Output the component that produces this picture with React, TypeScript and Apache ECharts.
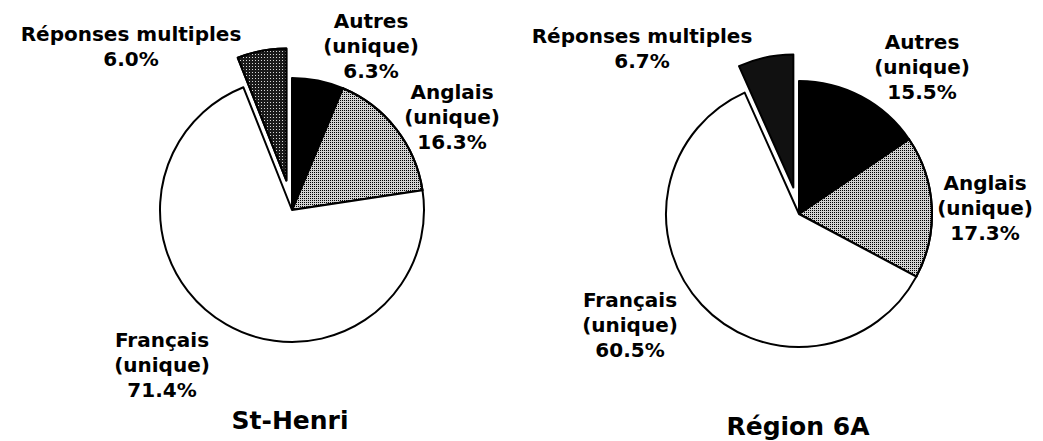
import React, { useEffect, useRef } from "react";
import * as echarts from "echarts";

// ---- data ----
const categories = ["Autres (unique)", "Anglais (unique)", "Français (unique)", "Réponses multiples"];
const stHenriValues = [6.3, 16.3, 71.4, 6.0];
const region6AValues = [15.5, 17.3, 60.5, 6.7];
const pieTitles = ["St-Henri", "Région 6A"];
const explodedCategory = "Réponses multiples";

// ---- styles / layout ----
const pieCenters: [number, number][] = [[292, 210], [799, 214]];
const pieRadii = [132, 133];
const explodeOffsets = [30, 27];
const sliceColors = [
  ["#000000", "#d2d2d2", "#ffffff", "#1a1a1a"],
  ["#000000", "#d2d2d2", "#ffffff", "#111111"],
];
const stipple = { symbol: "rect", symbolSize: 1, dashArrayX: [[1, 1]], dashArrayY: [1, 1], color: "#000000", rotation: 0 };
const sparseDots = { symbol: "rect", symbolSize: 1, dashArrayX: [[1, 2]], dashArrayY: [1, 2], color: "#d8d8d8", rotation: 0 };
const sliceDecals: (any | null)[][] = [
  [null, stipple, null, sparseDots],
  [null, stipple, null, null],
];
// label anchor centers per pie, per category
const labelAnchors: [number, number][][] = [
  [[371, 46], [452, 117], [162, 365], [131, 46]],
  [[922, 67], [985, 208], [630, 325], [642, 48]],
];
const titleAnchors: [number, number][] = [[290, 420], [798, 426]];

const FONT = "'DejaVu Sans', Arial, sans-serif";

export default function App() {
  const ref = useRef<HTMLDivElement>(null);
  useEffect(() => {
    if (!ref.current) return;
    const chart = echarts.init(ref.current, undefined, { renderer: "svg" });
    const allValues = [stHenriValues, region6AValues];
    const series: any[] = [];
    const styleFor = (si: number, i: number) => {
      const s: any = { color: sliceColors[si][i] };
      if (sliceDecals[si][i]) s.decal = sliceDecals[si][i];
      return s;
    };
    allValues.forEach((vals, si) => {
      const explodedIdx = categories.indexOf(explodedCategory);
      const total = vals.reduce((a, b) => a + b, 0);
      let before = 0;
      for (let i = 0; i < explodedIdx; i++) before += vals[i];
      // mid angle, measured clockwise from 12 o'clock
      const mid = ((before + vals[explodedIdx] / 2) / total) * 2 * Math.PI;
      const dx = Math.sin(mid) * explodeOffsets[si];
      const dy = -Math.cos(mid) * explodeOffsets[si];
      const base = {
        type: "pie",
        radius: pieRadii[si],
        startAngle: 90,
        clockwise: true,
        avoidLabelOverlap: false,
        emphasis: { disabled: true },
        labelLine: { show: false },
      };
      // main pie (exploded slice drawn transparent here)
      series.push({
        ...base,
        center: pieCenters[si],
        itemStyle: { borderColor: "#000", borderWidth: 2 },
        label: {
          show: true,
          position: "outside",
          fontFamily: FONT,
          fontWeight: "bold",
          fontSize: 20,
          lineHeight: 25,
          color: "#000",
          align: "center",
          formatter: (p: any) =>
            `${String(p.name).replace(" (", "\n(")}\n${Number(p.value).toFixed(1)}%`,
        },
        labelLayout: (p: any) => {
          const a = labelAnchors[si][p.dataIndex];
          return { x: a[0], y: a[1], align: "center", verticalAlign: "middle" };
        },
        data: categories.map((c, i) => ({
          name: c,
          value: vals[i],
          itemStyle:
            c === explodedCategory
              ? { color: "rgba(0,0,0,0)", borderWidth: 0 }
              : styleFor(si, i),
        })),
      });
      // exploded slice, shifted outward along its mid angle
      series.push({
        ...base,
        center: [pieCenters[si][0] + dx, pieCenters[si][1] + dy],
        label: { show: false },
        silent: true,
        data: categories.map((c, i) => ({
          name: c,
          value: vals[i],
          itemStyle:
            c === explodedCategory
              ? { ...styleFor(si, i), borderColor: "#000", borderWidth: 2 }
              : { color: "rgba(0,0,0,0)", borderWidth: 0 },
        })),
      });
    });
    chart.setOption({
      animation: false,
      backgroundColor: "#ffffff",
      aria: { enabled: false, decal: { show: false } },
      series,
      graphic: pieTitles.map((t, i) => ({
        type: "text",
        x: titleAnchors[i][0],
        y: titleAnchors[i][1],
        style: {
          text: t,
          fontFamily: FONT,
          fontWeight: "bold",
          fontSize: 25,
          fill: "#000",
          align: "center",
          verticalAlign: "middle",
        },
      })),
    } as any);
    return () => chart.dispose();
  }, []);
  return (
    <div
      ref={ref}
      style={{ position: "fixed", left: 0, top: 0, width: 1043, height: 441, background: "#fff" }}
    />
  );
}
